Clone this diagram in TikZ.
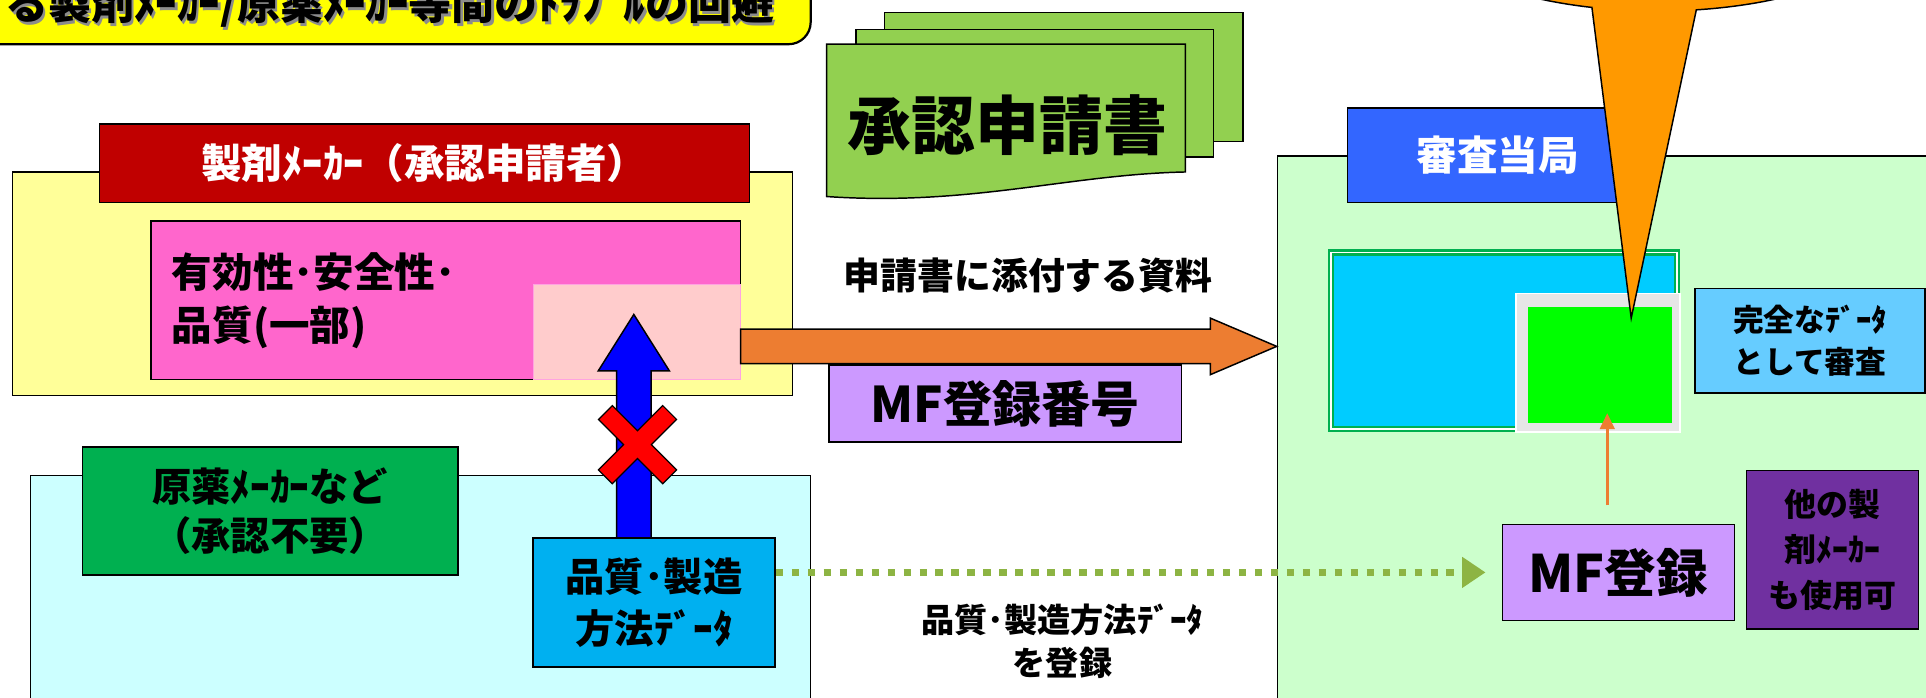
\documentclass[tikz,border=0pt]{standalone}
\usepackage{fontspec}
\setmainfont{Noto Sans CJK JP}
\usetikzlibrary{calc,arrows.meta}

\definecolor{titleyellow}{HTML}{FFFF00}
\definecolor{docgreen}{HTML}{92D050}
\definecolor{makeryellow}{HTML}{FFFF99}
\definecolor{makerred}{HTML}{C00000}
\definecolor{pinkbox}{HTML}{FF66CC}
\definecolor{lightpink}{HTML}{FFCCCC}
\definecolor{apicyan}{HTML}{CCFFFF}
\definecolor{apigreen}{HTML}{00B050}
\definecolor{databox}{HTML}{00B0F0}
\definecolor{arroworange}{HTML}{ED7D31}
\definecolor{mfpurple}{HTML}{CC99FF}
\definecolor{dotgreen}{HTML}{8DB443}
\definecolor{authgreen}{HTML}{CCFFCC}
\definecolor{authblue}{HTML}{3366FF}
\definecolor{reviewcyan}{HTML}{00CCFF}
\definecolor{reviewgray}{HTML}{E6E6E6}
\definecolor{brightgreen}{HTML}{00FF00}
\definecolor{fullblue}{HTML}{66CCFF}
\definecolor{otherpurple}{HTML}{7030A0}
\definecolor{calloutorange}{HTML}{FF9900}

\newcommand{\jsize}[2]{\fontsize{#1}{#2}\selectfont}

\begin{document}
\begin{tikzpicture}[x=1pt,y=-1pt,
    box/.style={draw=black,line width=1.2pt,inner sep=0pt,align=center,font=\bfseries},
    sheet/.style={draw=black,line width=1.2pt,fill=docgreen},
    blockarrow/.style={draw=black,line width=1.2pt,line join=miter},
    dotarrow/.style={draw=dotgreen,line width=5.5pt,dash pattern=on 6pt off 7pt,-{Triangle[length=19pt,width=24pt]}},
    thinarrow/.style={draw=arroworange,line width=2pt,-{Triangle[length=13pt,width=12pt]}}]
\useasboundingbox (0,0) rectangle (1568,568);

% title banner
\filldraw[fill=titleyellow,line width=1.8pt,rounded corners=18] (-40,-40) rectangle (660,36);
\node[font=\bfseries\jsize{35}{40},text=black!45,anchor=east] (titleshadow) at (636,6) {る製剤ﾒｰｶｰ/原薬ﾒｰｶｰ等間のﾄﾗﾌﾞﾙの回避};
\node[font=\bfseries\jsize{35}{40},anchor=east] (title) at (634,4) {る製剤ﾒｰｶｰ/原薬ﾒｰｶｰ等間のﾄﾗﾌﾞﾙの回避};

% application documents
\filldraw[sheet] (720,10) rectangle (1012,115);
\filldraw[sheet] (697,24) rectangle (988,128);
\filldraw[sheet] (673,36) -- (965,36) -- (965,140) .. controls (870,142) and (790,168) .. (673,160) -- cycle;
\node[font=\bfseries\jsize{52}{60}] (application) at (820,102) {承認申請書};

% drug product maker
\node[box,fill=makeryellow,minimum width=635,minimum height=182] (makerarea) at (327.5,231) {};
\node[box,fill=makerred,text=white,minimum width=529,minimum height=64,font=\bfseries\jsize{33}{38}] (maker) at (345.5,133) {製剤ﾒｰｶｰ（承認申請者）};
\node[box,fill=pinkbox,minimum width=480,minimum height=129,text width=446,inner xsep=17,align=left,font=\bfseries\jsize{33}{43}] (efficacy) at (363,244.5) {有効性･安全性･\\品質(一部)};
\node[fill=lightpink,draw=pinkbox!60,line width=0.8pt,inner sep=0pt,minimum width=169,minimum height=77] (partq) at (518.5,270.5) {};

% API maker
\node[box,fill=apicyan,minimum width=635,minimum height=233] (apiarea) at (342.5,503.5) {};
\node[box,fill=apigreen,minimum width=306,minimum height=104,font=\bfseries\jsize{32}{40}] (apimaker) at (220,416) {原薬ﾒｰｶｰなど\\（承認不要）};

% blocked route
\coordinate (upbase) at (516,438);
\coordinate (uptip) at (516,256);
\filldraw[blockarrow,fill=blue] ($(upbase)+(-14,0)$) |- ($(uptip)+(-29,46)$) -- (uptip) -- ($(uptip)+(29,46)$) -| ($(upbase)+(14,0)$) -- cycle;
\node[box,fill=databox,minimum width=197,minimum height=105,font=\bfseries\jsize{32}{42}] (qdata) at (532.5,490.5) {品質･製造\\方法ﾃﾞｰﾀ};
\begin{scope}[shift={(519,362)},rotate=45]
  \filldraw[fill=red,draw=black,line width=1pt] (-8,-37) -- (8,-37) -- (8,-8) -- (37,-8) -- (37,8) -- (8,8) -- (8,37) -- (-8,37) -- (-8,8) -- (-37,8) -- (-37,-8) -- (-8,-8) -- cycle;
\end{scope}

% authority
\node[box,fill=authgreen,minimum width=580,minimum height=493] (authority) at (1330,373.5) {};
\node[box,fill=authblue,text=white,minimum width=221,minimum height=77,font=\bfseries\jsize{33}{38}] (authlabel) at (1207.5,126.5) {\hspace*{24pt}審査当局};
\node[fill=reviewcyan,draw=apigreen,line width=1.8pt,double=white,double distance=1.5pt,inner sep=0pt,minimum width=282,minimum height=144] (reviewed) at (1224.5,277.5) {};
\node[fill=reviewgray,draw=white,line width=1.5pt,inner sep=0pt,minimum width=134,minimum height=113] (graybox) at (1301,295.5) {};
\node[fill=brightgreen,inner sep=0pt,minimum width=117,minimum height=94] (greendata) at (1302.5,297) {};
\node[box,fill=fullblue,minimum width=187,minimum height=85,font=\bfseries\jsize{25}{34}] (complete) at (1473.5,277.5) {完全なﾃﾞｰﾀ\\として審査};

% submission
\coordinate (applyfrom) at (603,282);
\coordinate (applyto) at (authority.west |- applyfrom);
\filldraw[blockarrow,fill=arroworange] ($(applyfrom)+(0,-14)$) -| ($(applyto)+(-54,-23)$) -- (applyto) -- ($(applyto)+(-54,23)$) |- ($(applyfrom)+(0,14)$) -- cycle;
\node[font=\bfseries\jsize{30}{34}] (attach) at (837,224) {申請書に添付する資料};
\node[box,fill=mfpurple,minimum width=287,minimum height=63,font=\bfseries\jsize{40}{46}] (mfno) at (818.5,328.5) {MF登録番号};

% master file
\node[box,fill=mfpurple,minimum width=189,minimum height=78,font=\bfseries\jsize{42}{48}] (mfreg) at (1317.5,466) {MF登録};
\node[box,fill=otherpurple,minimum width=140,minimum height=129,font=\bfseries\jsize{26}{37}] (others) at (1492,447.5) {他の製\\剤ﾒｰｶｰ\\も使用可};
\draw[dotarrow] (qdata.east |- mfreg.west) -- ($(mfreg.west)+(-13,0)$);
\node[align=center,font=\bfseries\jsize{27}{35}] (regtext) at (865,522) {品質･製造方法ﾃﾞｰﾀ\\を登録};
\draw[thinarrow] ($(mfreg.north)+(-9,-15)$) -- ++(0,-75);

% callout
\filldraw[fill=calloutorange,draw=black,line width=1.2pt] (1296,6) -- (1328,259) -- (1381,8) arc[start angle=-81,end angle=254.3,x radius=200pt,y radius=80pt] -- cycle;
\end{tikzpicture}
\end{document}
